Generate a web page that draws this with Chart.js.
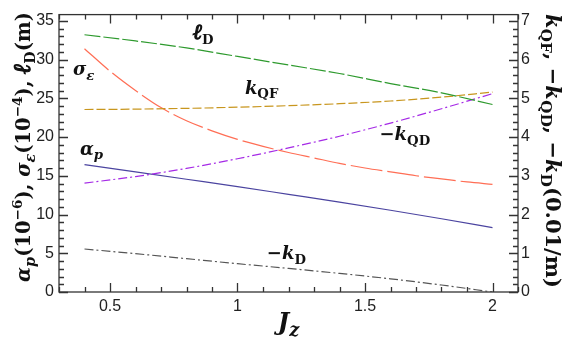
<!DOCTYPE html>
<html>
<head>
<meta charset="utf-8">
<script src="https://cdn.jsdelivr.net/npm/chart.js@4.4.1/dist/chart.umd.min.js"></script>
<style>
html, body { margin: 0; padding: 0; background: #fff; }
#wrap { width: 575px; height: 340px; position: relative; }
</style>
</head>
<body>
<div id="wrap"><canvas id="jz-chart"></canvas></div>
<script>
// values
var xFine   = [0.4, 0.5, 0.6, 0.7, 0.8, 0.9, 1.0, 1.1, 1.2, 1.3, 1.4, 1.5, 1.6, 1.7, 1.8, 1.9, 2.0];
var xCoarse = [0.4, 0.6, 0.8, 1.0, 1.2, 1.4, 1.6, 1.8, 2.0];

// left axis
var sigmaEps = [31.4, 28.5, 26.0, 23.8, 22.1, 20.8, 19.7, 18.8, 18.0, 17.3, 16.6, 16.0, 15.5, 15.0, 14.6, 14.2, 13.9];
var ellD     = [33.2, 32.4, 31.5, 30.4, 29.3, 28.2, 26.9, 25.7, 24.2];
var alphaP   = [16.45, 15.5, 14.55, 13.6, 12.6, 11.6, 10.55, 9.45, 8.3];
// right axis
var kQF      = [4.71, 4.72, 4.74, 4.77, 4.81, 4.86, 4.93, 5.03, 5.16];
var minusKQD = [2.81, 2.98, 3.19, 3.44, 3.72, 4.02, 4.36, 4.73, 5.12];
var minusKD  = [1.11, 0.99, 0.86, 0.73, 0.61, 0.48, 0.34, 0.18, 0.0];

var xTicks     = [0.5, 1, 1.5, 2];
var leftTicks  = [0, 5, 10, 15, 20, 25, 30, 35];
var rightTicks = [0, 1, 2, 3, 4, 5, 6, 7];

var SERIF = '"DejaVu Serif", "Liberation Serif", serif';
var ELL = '"Liberation Serif", "DejaVu Serif", serif';
var SANS = '"Liberation Sans", Arial, sans-serif';

var toPoints = function (xs, ys) {
    return xs.map(function (x, i) { return { x: x, y: ys[i] }; });
};

// rich text: parts = [{t, it, sub, sup, f}]
var partFont = function (p, size) {
    var s = p.sub ? size * 0.74 : (p.sup ? size * 0.7 : size);
    if (p.f) s = s * 1.2;
    return (p.it ? 'italic ' : '') + 'bold ' + s.toFixed(1) + 'px ' + (p.f || SERIF);
};
var richWidth = function (ctx, parts, size) {
    var w = 0;
    parts.forEach(function (p) {
        ctx.font = partFont(p, size);
        w += ctx.measureText(p.t).width;
    });
    return w;
};
var drawRich = function (ctx, parts, x, y, size, center) {
    var cx = center ? x - richWidth(ctx, parts, size) / 2 : x;
    ctx.textAlign = 'left';
    ctx.textBaseline = 'alphabetic';
    parts.forEach(function (p) {
        ctx.font = partFont(p, size);
        var dy = p.sub ? size * 0.25 : (p.sup ? -size * 0.4 : 0);
        ctx.fillText(p.t, cx, y + dy);
        if (p.f) {
            // the script l has no heavy face, thicken it by hand
            ctx.lineWidth = size * 0.06;
            ctx.strokeStyle = ctx.fillStyle;
            ctx.strokeText(p.t, cx, y + dy);
        }
        cx += ctx.measureText(p.t).width;
    });
};
// pick the size that makes a title span a given length
var fitSize = function (ctx, parts, length) {
    return 20 * length / richWidth(ctx, parts, 20);
};

var leftTitle = [
    { t: 'α', it: true }, { t: 'p', it: true, sub: true }, { t: '(10' }, { t: '−6', sup: true }, { t: '), ' },
    { t: 'σ', it: true }, { t: 'ε', it: true, sub: true }, { t: '(10' }, { t: '−4', sup: true }, { t: '), ' },
    { t: 'ℓ', it: true, f: ELL }, { t: 'D', sub: true }, { t: '(m)' }
];
var rightTitle = [
    { t: 'k', it: true }, { t: 'QF', sub: true }, { t: ', −' },
    { t: 'k', it: true }, { t: 'QD', sub: true }, { t: ', −' },
    { t: 'k', it: true }, { t: 'D', sub: true }, { t: '(0.01/m)' }
];
var xTitle = [{ t: 'J', it: true }, { t: 'z', it: true, sub: true }];

// curve labels, anchored in data coords (left scale)
var curveLabels = [
    { x: 0.825, y: 32.6, parts: [{ t: 'ℓ', it: true, f: ELL }, { t: 'D', sub: true }] },
    { x: 0.355, y: 28.0, parts: [{ t: 'σ', it: true }, { t: 'ε', it: true, sub: true }] },
    { x: 1.029, y: 25.6, parts: [{ t: 'k', it: true }, { t: 'QF', sub: true }] },
    { x: 1.557, y: 19.6, parts: [{ t: '−' }, { t: 'k', it: true }, { t: 'QD', sub: true }] },
    { x: 0.382, y: 17.7, parts: [{ t: 'α', it: true }, { t: 'p', it: true, sub: true }] },
    { x: 1.115, y: 4.2,  parts: [{ t: '−' }, { t: 'k', it: true }, { t: 'D', sub: true }] }
];

var frameAndText = {
    id: 'frameAndText',
    afterDraw: function (chart) {
        var ctx = chart.ctx, a = chart.chartArea;
        var sx = chart.scales.x, yl = chart.scales.y, yr = chart.scales.y2;
        var i, p, len, fs;
        ctx.save();
        ctx.strokeStyle = '#333';
        ctx.lineWidth = 1.3;
        ctx.strokeRect(a.left, a.top, a.right - a.left, a.bottom - a.top);
        ctx.beginPath();
        // x ticks, bottom and top, inward
        for (i = 3; i <= 21; i++) {
            p = Math.round(sx.getPixelForValue(i / 10)) + 0.5;
            len = (i % 5 === 0) ? 9 : 5;
            ctx.moveTo(p, a.bottom); ctx.lineTo(p, a.bottom - len);
            ctx.moveTo(p, a.top); ctx.lineTo(p, a.top + len);
        }
        // left ticks
        for (i = 0; i <= 35; i++) {
            p = Math.round(yl.getPixelForValue(i)) + 0.5;
            len = (i % 5 === 0) ? 9 : 5;
            ctx.moveTo(a.left, p); ctx.lineTo(a.left + len, p);
        }
        // right ticks
        for (i = 0; i <= 35; i++) {
            p = Math.round(yr.getPixelForValue(i / 5)) + 0.5;
            len = (i % 5 === 0) ? 9 : 5;
            ctx.moveTo(a.right, p); ctx.lineTo(a.right - len, p);
        }
        ctx.stroke();

        ctx.fillStyle = '#111';
        curveLabels.forEach(function (l) {
            drawRich(ctx, l.parts, sx.getPixelForValue(l.x), yl.getPixelForValue(l.y), 18, false);
        });

        drawRich(ctx, xTitle, (a.left + a.right) / 2, 330, 24, true);

        ctx.save();
        ctx.translate(30, 147);
        ctx.rotate(-Math.PI / 2);
        fs = fitSize(ctx, leftTitle, 270);
        drawRich(ctx, leftTitle, 0, 0, fs, true);
        ctx.restore();

        ctx.save();
        ctx.translate(546, 151);
        ctx.rotate(Math.PI / 2);
        fs = fitSize(ctx, rightTitle, 274);
        drawRich(ctx, rightTitle, 0, 0, fs, true);
        ctx.restore();
        ctx.restore();
    }
};

var line = function (label, xs, ys, color, dash, axis) {
    return {
        label: label,
        data: toPoints(xs, ys),
        yAxisID: axis,
        borderColor: color,
        borderWidth: 1.2,
        borderDash: dash,
        pointRadius: 0,
        fill: false,
        cubicInterpolationMode: 'monotone'
    };
};

var fixTicks = function (vals) {
    return function (scale) {
        scale.ticks = vals.map(function (v) { return { value: v }; });
    };
};

var tickFont = { family: SANS, size: 16 };

var ctx = document.getElementById('jz-chart');
var myChart = new Chart(ctx, {
    type: 'line',
    data: {
        datasets: [
            line('ellD', xCoarse, ellD, '#2e9a2e', [16, 3], 'y'),
            line('kQF', xCoarse, kQF, '#c8961e', [9, 3], 'y2'),
            line('sigmaEps', xFine, sigmaEps, '#ff6e55', [32, 5], 'y'),
            line('-kQD', xCoarse, minusKQD, '#a52ae6', [9, 3, 2, 3], 'y2'),
            line('alphaP', xCoarse, alphaP, '#4b44a0', [], 'y'),
            line('-kD', xCoarse, minusKD, '#555555', [9, 3, 2, 3], 'y2')
        ]
    },
    options: {
        responsive: true,
        maintainAspectRatio: false,
        animation: false,
        layout: { padding: { top: 13, left: 0, right: 0, bottom: 0 } },
        plugins: { legend: { display: false }, tooltip: { enabled: false } },
        scales: {
            x: {
                type: 'linear', min: 0.3, max: 2.1,
                grid: { display: false, drawTicks: false }, border: { display: false },
                afterBuildTicks: fixTicks(xTicks),
                afterFit: function (s) { s.height = 48; },
                ticks: {
                    padding: 5, color: '#222', font: tickFont,
                    callback: function (v) { return String(v); }
                }
            },
            y: {
                position: 'left', min: 0, max: 35.8,
                grid: { display: false, drawTicks: false }, border: { display: false },
                afterBuildTicks: fixTicks(leftTicks),
                afterFit: function (s) { s.width = 59; },
                ticks: { padding: 5, color: '#222', font: tickFont }
            },
            y2: {
                position: 'right', min: 0, max: 7.16,
                grid: { display: false, drawTicks: false }, border: { display: false },
                afterBuildTicks: fixTicks(rightTicks),
                afterFit: function (s) { s.width = 57; },
                ticks: { padding: 3, color: '#222', font: tickFont }
            }
        }
    },
    plugins: [frameAndText]
});
</script>
</body>
</html>
